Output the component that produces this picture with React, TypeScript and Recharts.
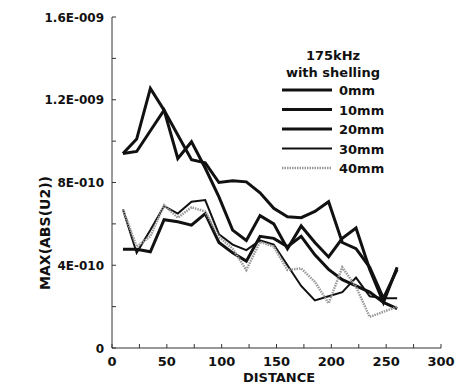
import { LineChart, Line, XAxis, YAxis } from 'recharts';

// distance samples (x axis)
const distance = [10, 22.5, 35, 47.5, 60, 72.5, 85, 97.5, 110, 122.5, 135, 147.5, 160, 172.5, 185, 197.5, 210, 222.5, 235, 247.5, 260];

// MAX(ABS(U2)) values, in units of 1E-010
const mm0 = [9.4, 10.1, 12.55, 11.5, 9.16, 9.97, 8.7, 7.3, 5.7, 5.2, 6.4, 6.0, 4.8, 5.9, 5.1, 4.4, 5.3, 5.8, 3.8, 2.2, 3.9];
const mm10 = [9.4, 9.5, 10.5, 11.5, 10.3, 9.1, 8.95, 8.0, 8.08, 8.03, 7.5, 6.75, 6.34, 6.3, 6.6, 7.07, 5.1, 4.8, 3.9, 2.4, 3.8];
const mm20 = [4.77, 4.77, 4.65, 6.2, 6.1, 5.94, 6.5, 5.1, 4.6, 4.2, 5.4, 5.3, 4.9, 5.4, 4.5, 3.8, 3.3, 3.0, 2.7, 2.2, 1.9];
const mm30 = [6.7, 4.6, 5.7, 6.86, 6.5, 7.07, 7.15, 5.5, 5.0, 4.73, 5.2, 5.0, 4.0, 3.0, 2.3, 2.5, 2.7, 3.4, 2.5, 2.4, 2.4];
const mm40 = [6.7, 4.9, 5.4, 6.9, 6.3, 6.8, 6.6, 5.38, 4.8, 3.77, 5.13, 4.9, 3.77, 3.85, 3.2, 2.16, 3.9, 2.96, 1.5, 1.75, 2.0];

const xTicks = [0, 25, 50, 75, 100, 125, 150, 175, 200, 225, 250, 275, 300];
const yTicks = [0, 2, 4, 6, 8, 10, 12, 14, 16];
const yTickLabels: Record<number, string> = { 0: '0', 4: '4E-010', 8: '8E-010', 12: '1.2E-009', 16: '1.6E-009' };

const legendTitle = ['175kHz', 'with shelling'];

const series = [
  { key: 'mm0', name: '0mm', values: mm0, color: '#111', width: 3, dash: undefined },
  { key: 'mm10', name: '10mm', values: mm10, color: '#111', width: 3, dash: undefined },
  { key: 'mm20', name: '20mm', values: mm20, color: '#111', width: 3, dash: undefined },
  { key: 'mm30', name: '30mm', values: mm30, color: '#111', width: 2, dash: undefined },
  { key: 'mm40', name: '40mm', values: mm40, color: '#999', width: 2.5, dash: '1.5 1' },
];

const data = distance.map((x, i) => {
  const row: Record<string, number> = { x };
  series.forEach((s) => {
    row[s.key] = s.values[i];
  });
  return row;
});

const FONT = '"DejaVu Sans", sans-serif';

const XTick = (props: any) => {
  const { x, y, payload } = props;
  const major = payload.value % 50 === 0;
  return (
    <g>
      <line x1={x} x2={x} y1={y} y2={y - 4} stroke="#333" strokeWidth={1} />
      {major && (
        <text x={x} y={y + 18} textAnchor="middle" fontFamily={FONT} fontWeight="bold" fontSize={13} fill="#111">
          {payload.value}
        </text>
      )}
    </g>
  );
};

const YTick = (props: any) => {
  const { x, y, payload } = props;
  const label = yTickLabels[payload.value];
  return (
    <g>
      <line x1={x} x2={x + 4} y1={y} y2={y} stroke="#333" strokeWidth={1} />
      {label && (
        <text x={x - 8} y={y + 4.5} textAnchor="end" fontFamily={FONT} fontWeight="bold" fontSize={12} fill="#111">
          {label}
        </text>
      )}
    </g>
  );
};

export default function App() {
  return (
    <div style={{ position: 'absolute', left: 0, top: 0, width: 459, height: 385, background: '#fff' }}>
      <LineChart width={459} height={385} data={data} margin={{ top: 17, right: 18, bottom: 7, left: 0 }}>
        <XAxis
          dataKey="x"
          type="number"
          domain={[0, 300]}
          ticks={xTicks}
          interval={0}
          tickSize={0}
          tickMargin={0}
          tickLine={false}
          tick={<XTick />}
          stroke="#333"
          height={30}
          label={(p: any) => (
            <text x={279} y={382} textAnchor="middle" fontFamily={FONT} fontWeight="bold" fontSize={13} fill="#111">
              DISTANCE
            </text>
          )}
        />
        <YAxis
          type="number"
          domain={[0, 16]}
          ticks={yTicks}
          interval={0}
          tickSize={0}
          tickMargin={0}
          tickLine={false}
          tick={<YTick />}
          stroke="#333"
          width={112}
          label={(p: any) => (
            <text
              x={50}
              y={233}
              transform="rotate(-90 50 233)"
              textAnchor="middle"
              fontFamily={FONT}
              fontWeight="bold"
              fontSize={14}
              fill="#111"
            >
              MAX(ABS(U2))
            </text>
          )}
        />
        {series.map((s) => (
          <Line
            key={s.key}
            dataKey={s.key}
            name={s.name}
            stroke={s.color}
            strokeWidth={s.width}
            strokeDasharray={s.dash}
            dot={false}
            isAnimationActive={false}
          />
        ))}
      </LineChart>
      <svg width={459} height={385} style={{ position: 'absolute', left: 0, top: 0, pointerEvents: 'none' }}>
        {legendTitle.map((t, i) => (
          <text key={t} x={333} y={60 + i * 17} textAnchor="middle" fontFamily={FONT} fontWeight="bold" fontSize={13} fill="#111">
            {t}
          </text>
        ))}
        {series.map((s, i) => {
          const cy = 90 + i * 19.5;
          return (
            <g key={s.key}>
              <line x1={282} x2={332} y1={cy} y2={cy} stroke={s.color} strokeWidth={s.width} strokeDasharray={s.dash} />
              <text x={339} y={cy + 5} fontFamily={FONT} fontWeight="bold" fontSize={13} fill="#111">
                {s.name}
              </text>
            </g>
          );
        })}
      </svg>
    </div>
  );
}
